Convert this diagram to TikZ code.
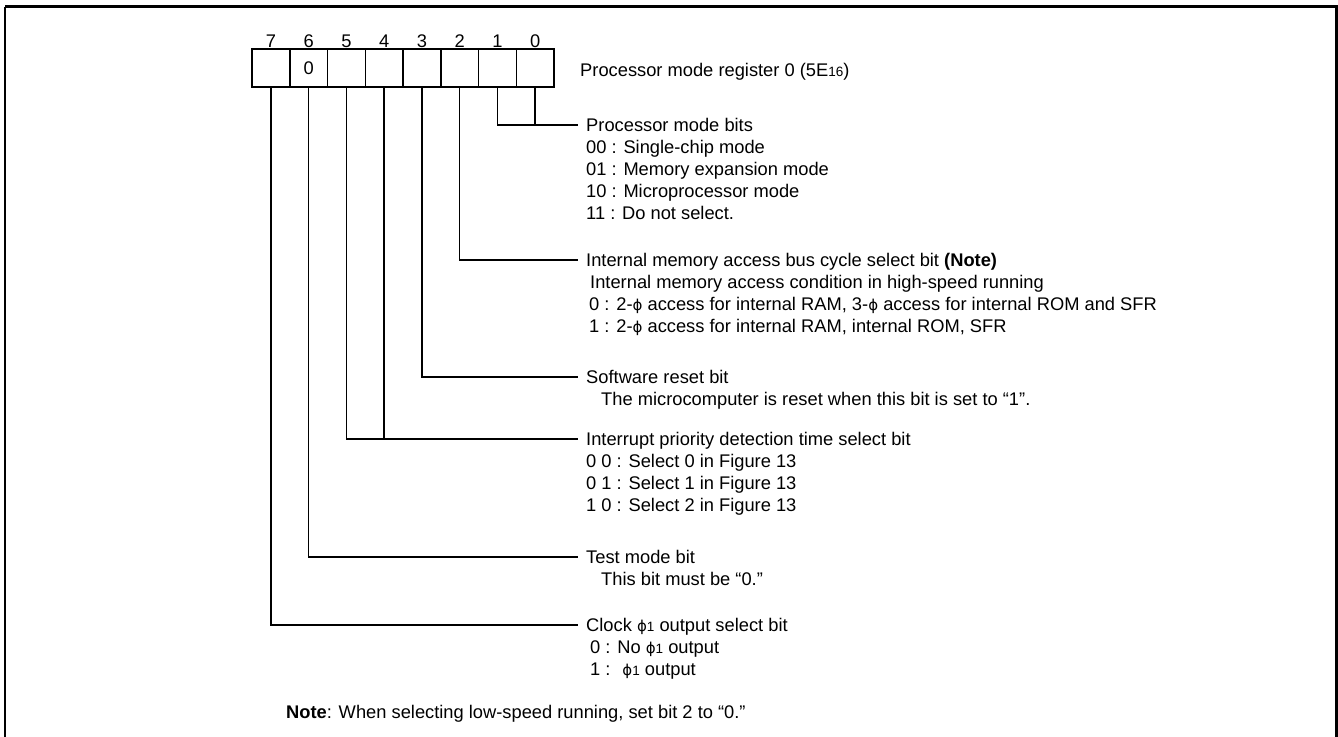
\documentclass[tikz,border=0pt]{standalone}
\usepackage{fontspec}
\setmainfont{Liberation Sans}
\newfontfamily\phifont{DejaVu Sans}
\newcommand{\myphi}{{\phifont\fontsize{15}{15}\selectfont ϕ}}
\newcommand{\smalln}[1]{{\fontsize{13.5}{13.5}\selectfont #1}}
\begin{document}
\begin{tikzpicture}[x=1pt,y=-1pt,
  txt/.style={anchor=base west, inner sep=0pt, font=\fontsize{18.3}{22}\selectfont},
  bitnum/.style={anchor=base, inner sep=0pt, font=\fontsize{18.3}{22}\selectfont},
  cell/.style={draw, line width=1.5pt, minimum width=37.75pt, minimum height=38pt, inner sep=0pt, anchor=center},
  leader/.style={line width=1.3pt},
  frame/.style={line width=2.4pt}]
\useasboundingbox (0,0) rectangle (1338,736);
\draw[frame] (5,6.5) -- (1336.5,6.5) -- (1336.5,745) (5,745) -- (5,6.5);
% register cells
\foreach \b in {7,6,5,4,3,2,1,0}{
  \node[cell] (c\b) at ({252+37.75*(7-\b+0.5)},68) {};
  \node[bitnum] (n\b) at ({252+37.75*(7-\b+0.5)},47.5) {\b};
}
\node[inner sep=0pt, font=\fontsize{18.3}{22}\selectfont] (z6) at (c6.center) {0};
\node[txt] (title) at (580,76) {Processor mode register 0 (5E\smalln{16})};
% leader end coordinates
\coordinate (L1) at (578,125);
\coordinate (L2) at (578,260);
\coordinate (L3) at (578,377);
\coordinate (L5) at (578,439);
\coordinate (L6) at (578,557);
\coordinate (L7) at (578,625);
% leaders
\draw[leader] (c1.south) |- (L1);
\draw[leader] (c0.south) -- (c0.south |- L1);
\draw[leader] (c2.south) |- (L2);
\draw[leader] (c3.south) |- (L3);
\draw[leader] (c5.south) |- (L5);
\draw[leader] (c4.south) -- (c4.south |- L5);
\draw[leader] (c6.south) |- (L6);
\draw[leader] (c7.south) |- (L7);
% group 1
\node[txt] (g1a) at (586,131.5) {Processor mode bits};
\node[txt] (g1b) at (586,153.5) {00 : Single-chip mode};
\node[txt] (g1c) at (586,175.5) {01 : Memory expansion mode};
\node[txt] (g1d) at (586,197.5) {10 : Microprocessor mode};
\node[txt] (g1e) at (586,219.5) {11 : Do not select.};
% group 2
\node[txt] (g2a) at (586,266.5) {Internal memory access bus cycle select bit \textbf{(Note)}};
\node[txt] (g2b) at (590,288.5) {Internal memory access condition in high-speed running};
\node[txt] (g2c) at (589,310.5) {0 : 2-\myphi\ access for internal RAM, 3-\myphi\ access for internal ROM and SFR};
\node[txt] (g2d) at (589,332.5) {1 : 2-\myphi\ access for internal RAM, internal ROM, SFR};
% group 3
\node[txt] (g3a) at (586,383.5) {Software reset bit};
\node[txt] (g3b) at (601,405.5) {The microcomputer is reset when this bit is set to “1”.};
% group 4
\node[txt] (g4a) at (586,445.5) {Interrupt priority detection time select bit};
\node[txt] (g4b) at (586,467.5) {0 0 : Select 0 in Figure 13};
\node[txt] (g4c) at (586,489.5) {0 1 : Select 1 in Figure 13};
\node[txt] (g4d) at (586,511.5) {1 0 : Select 2 in Figure 13};
% group 5
\node[txt] (g5a) at (586,563.5) {Test mode bit};
\node[txt] (g5b) at (601,585.5) {This bit must be “0.”};
% group 6
\node[txt] (g6a) at (586,631.5) {Clock \myphi\smalln{1} output select bit};
\node[txt] (g6b) at (590,653.5) {0 : No \myphi\smalln{1} output};
\node[txt] (g6c) at (590,675.5) {1 : \ \myphi\smalln{1} output};
% note
\node[txt] (note) at (286,718.5) {\textbf{Note}: When selecting low-speed running, set bit 2 to “0.”};
\end{tikzpicture}
\end{document}
